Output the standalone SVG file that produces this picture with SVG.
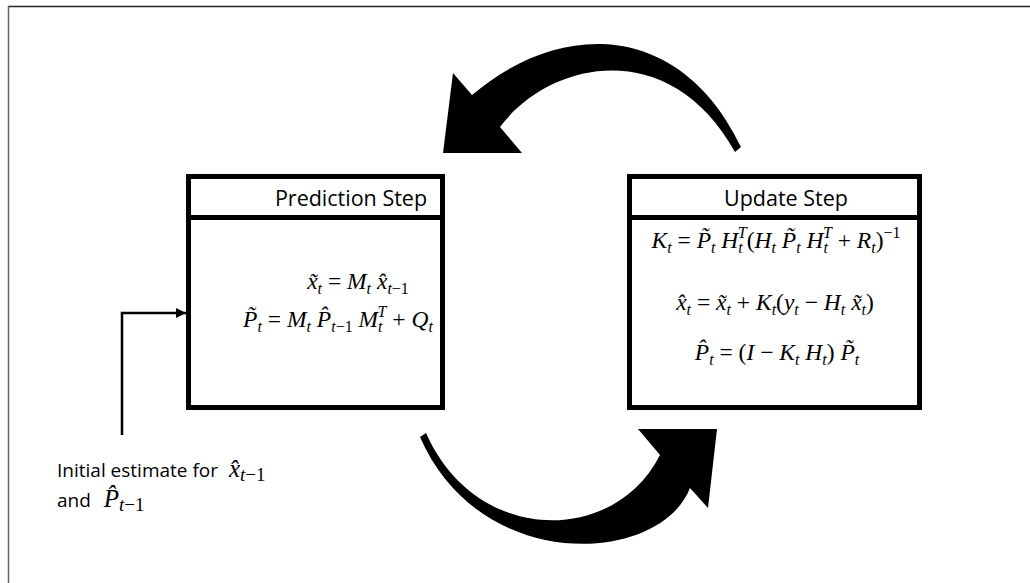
<svg xmlns="http://www.w3.org/2000/svg" width="1030" height="583" viewBox="0 0 1030 583">
<defs>
<style>
.box{fill:#fff;stroke:#000;stroke-width:5}
.hdr{font-family:"Open Sans","Liberation Sans",sans-serif;font-size:21.5px;fill:#000}
.eq{font-family:"Liberation Serif","DejaVu Serif",serif;font-size:23.5px;fill:#000}
.lbl{font-family:"Open Sans","Liberation Sans",sans-serif;font-size:19px;fill:#000}
.m{font-family:"Liberation Serif","DejaVu Serif",serif;font-size:25px}
.ms{font-family:"Liberation Serif","DejaVu Serif",serif;font-size:19px}
.i{font-style:italic}
.s{font-size:16px}
.conn{fill:none;stroke:#000;stroke-width:2.5}
.big{fill:#000;stroke:none}
</style>
<marker id="ah" viewBox="0 0 10 10" refX="10" refY="5" markerWidth="4" markerHeight="4" orient="auto" markerUnits="strokeWidth">
<path d="M0,0 L10,5 L0,10 Z" fill="#000"/>
</marker>
</defs>
<rect width="1030" height="583" fill="#fff"/>
<line x1="8" y1="6.5" x2="1030" y2="6.5" stroke="#222" stroke-width="1.5"/>
<line x1="8.5" y1="6" x2="8.5" y2="583" stroke="#666" stroke-width="1.5"/>

<g id="prediction">
<rect class="box" x="188.5" y="176.5" width="254" height="231"/>
<line x1="188.5" y1="217.5" x2="442.5" y2="217.5" stroke="#000" stroke-width="5"/>
<text class="hdr" x="351" y="206" text-anchor="middle">Prediction Step</text>
<text class="eq" x="358" y="289" text-anchor="middle"><tspan class="i">x&#x303;</tspan><tspan class="s i" dy="5">t</tspan><tspan dy="-5"> = </tspan><tspan class="i">M</tspan><tspan class="s i" dy="5">t</tspan><tspan class="i" dy="-5"> x&#x302;</tspan><tspan class="s" dy="5"><tspan class="i">t</tspan>−1</tspan></text>
<text class="eq" x="338" y="327" text-anchor="middle"><tspan class="i">P&#x303;</tspan><tspan class="s i" dy="5">t</tspan><tspan dy="-5"> = </tspan><tspan class="i">M</tspan><tspan class="s i" dy="5">t</tspan><tspan class="i" dy="-5"> P&#x302;</tspan><tspan class="s" dy="5"><tspan class="i">t</tspan>−1</tspan><tspan class="i" dy="-5"> M</tspan><tspan class="s i" dy="5">t</tspan><tspan class="s i" dx="-5" dy="-15">T</tspan><tspan dy="10"> + </tspan><tspan class="i">Q</tspan><tspan class="s i" dy="5">t</tspan></text>
</g>

<g id="update">
<rect class="box" x="629.5" y="176.5" width="290" height="231"/>
<line x1="629.5" y1="217.5" x2="919.5" y2="217.5" stroke="#000" stroke-width="5"/>
<text class="hdr" x="786" y="206" text-anchor="middle">Update Step</text>
<text class="eq" x="776" y="248" text-anchor="middle"><tspan class="i">K</tspan><tspan class="s i" dy="5">t</tspan><tspan dy="-5"> = </tspan><tspan class="i">P&#x303;</tspan><tspan class="s i" dy="5">t</tspan><tspan class="i" dy="-5"> H</tspan><tspan class="s i" dy="5">t</tspan><tspan class="s i" dx="-5" dy="-15">T</tspan><tspan dy="10">(</tspan><tspan class="i">H</tspan><tspan class="s i" dy="5">t</tspan><tspan class="i" dy="-5"> P&#x303;</tspan><tspan class="s i" dy="5">t</tspan><tspan class="i" dy="-5"> H</tspan><tspan class="s i" dy="5">t</tspan><tspan class="s i" dx="-5" dy="-15">T</tspan><tspan dy="10"> + </tspan><tspan class="i">R</tspan><tspan class="s i" dy="5">t</tspan><tspan dy="-5">)</tspan><tspan class="s" dy="-10">−1</tspan></text>
<text class="eq" x="775" y="310" text-anchor="middle"><tspan class="i">x&#x302;</tspan><tspan class="s i" dy="5">t</tspan><tspan dy="-5"> = </tspan><tspan class="i">x&#x303;</tspan><tspan class="s i" dy="5">t</tspan><tspan dy="-5"> + </tspan><tspan class="i">K</tspan><tspan class="s i" dy="5">t</tspan><tspan dy="-5">(</tspan><tspan class="i">y</tspan><tspan class="s i" dy="5">t</tspan><tspan dy="-5"> − </tspan><tspan class="i">H</tspan><tspan class="s i" dy="5">t</tspan><tspan class="i" dy="-5"> x&#x303;</tspan><tspan class="s i" dy="5">t</tspan><tspan dy="-5">)</tspan></text>
<text class="eq" x="777" y="360" text-anchor="middle"><tspan class="i">P&#x302;</tspan><tspan class="s i" dy="5">t</tspan><tspan dy="-5"> = (</tspan><tspan class="i">I</tspan><tspan> − </tspan><tspan class="i">K</tspan><tspan class="s i" dy="5">t</tspan><tspan class="i" dy="-5"> H</tspan><tspan class="s i" dy="5">t</tspan><tspan dy="-5">) </tspan><tspan class="i">P&#x303;</tspan><tspan class="s i" dy="5">t</tspan></text>
</g>

<g id="initial">
<text class="lbl" x="57" y="477">Initial estimate for <tspan class="m i" dx="6">x&#x302;</tspan><tspan class="ms i" dy="4">t</tspan><tspan class="ms">−1</tspan></text>
<text class="lbl" x="57" y="507">and <tspan class="m i" dx="8">P&#x302;</tspan><tspan class="ms i" dy="4">t</tspan><tspan class="ms">−1</tspan></text>
</g>

<g id="connectors">
<path class="conn" d="M122,435 L122,313 L186,313" marker-end="url(#ah)"/>
<path id="arrow-top" class="big" d="M741,147 C680,20 560,20 472,95 L453,73 L443,153 L522,153 L500,127 C550,60 670,35 735,152 Z"/>
<path id="arrow-bottom" class="big" d="M420,437 C480,575 660,565 690,488 L708,508 L717,429 L638,429 L660,455 C615,545 476,546 426,433 Z"/>
</g>
</svg>
